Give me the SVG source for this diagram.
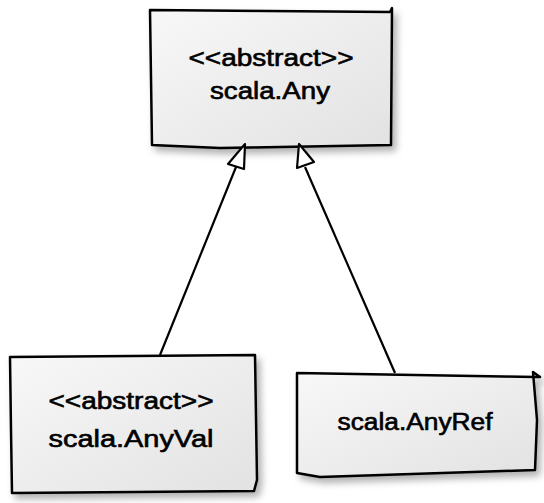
<svg xmlns="http://www.w3.org/2000/svg" width="544" height="503" viewBox="0 0 544 503">
<style>
.box{fill:url(#g);stroke:#000;stroke-width:2.5;stroke-linejoin:round;filter:url(#sh)}
.t{font-family:"Liberation Sans",Arial,sans-serif;font-size:23px;fill:#000;stroke:#000;stroke-width:0.6;text-anchor:middle}
.edge{fill:none;stroke:#000;stroke-width:2.2}
.head{fill:#fff;stroke:#000;stroke-width:2.2;stroke-linejoin:round}
</style>
<defs>
<linearGradient id="g" x1="0" y1="0" x2="1" y2="1">
<stop offset="0" stop-color="#f8f8f8"/>
<stop offset="1" stop-color="#e2e2e2"/>
</linearGradient>
<filter id="sh" x="-10%" y="-10%" width="130%" height="130%">
<feDropShadow dx="4" dy="5" stdDeviation="3.5" flood-color="#000" flood-opacity="0.3"/>
</filter>
</defs>
<g id="any">
<path class="box" d="M150,10 L390,12 L392,8 L391,145 L220,148 L152,145 Z"/>
<text class="t" x="271" y="66" textLength="165" lengthAdjust="spacingAndGlyphs">&lt;&lt;abstract&gt;&gt;</text>
<text class="t" x="270" y="99" textLength="120" lengthAdjust="spacingAndGlyphs">scala.Any</text>
</g>
<g id="anyval">
<path class="box" d="M10,357 L255,355 L257,480 L254,491 L12,493 L11,430 Z"/>
<text class="t" x="131" y="409" textLength="165" lengthAdjust="spacingAndGlyphs">&lt;&lt;abstract&gt;&gt;</text>
<text class="t" x="131" y="447" textLength="165" lengthAdjust="spacingAndGlyphs">scala.AnyVal</text>
</g>
<g id="anyref">
<path class="box" d="M297,373 L535,377 L540,377 L533,372 L537,420 L535,470 L320,477 L297,473 Z"/>
<text class="t" x="415" y="430" textLength="155" lengthAdjust="spacingAndGlyphs">scala.AnyRef</text>
</g>
<g id="connectors">
<path class="edge" d="M160,355 L236,167"/>
<path class="head" d="M245,144 L228,164 L244,169 Z"/>
<path class="edge" d="M395,373 L305,167"/>
<path class="head" d="M299,144 L297,168 L314,162 Z"/>
</g>
</svg>
